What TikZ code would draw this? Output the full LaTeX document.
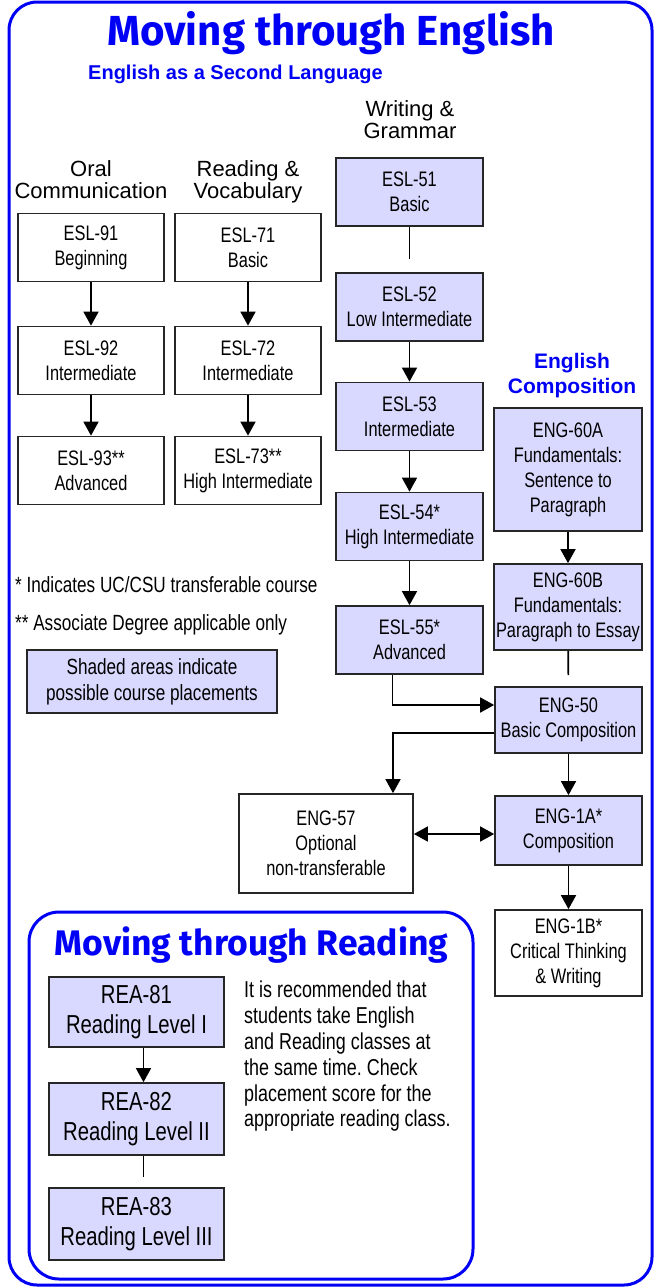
\documentclass[tikz,border=0pt]{standalone}
\usepackage{fontspec}
\setmainfont{Liberation Sans}
\newfontfamily\narrowfont{Liberation Sans}[FakeStretch=0.78]
\newfontfamily\titlefont{Fira Sans}
\usetikzlibrary{arrows.meta}
\definecolor{ttlblue}{RGB}{0,0,245}
\definecolor{lav}{RGB}{217,217,255}
\newcommand{\boxfont}{\narrowfont\fontsize{21bp}{25bp}\selectfont}
\frenchspacing

\begin{document}
\begin{tikzpicture}[x=1bp,y=-1bp,
    course/.style={draw=black!85,line width=1.7bp,fill=white,minimum width=146bp,minimum height=68bp,inner sep=0pt,align=center,font=\boxfont},
    placed/.style={course,fill=lav},
    arr/.style={-{Triangle[length=14bp,width=15bp]},line width=1.6bp},
    link/.style={line width=1.6bp},
    lbl/.style={inner sep=0pt},
    head/.style={lbl,align=center,anchor=north,font=\fontsize{22bp}{22bp}\selectfont},
    bluehead/.style={lbl,text=ttlblue,font=\fontsize{20bp}{25bp}\selectfont\bfseries}]

\useasboundingbox (0,0) rectangle (654,1287);
\path[draw=ttlblue,line width=3bp,rounded corners=28bp] (9,2) rectangle (652,1285);

\node[lbl,anchor=base,text=ttlblue,font=\titlefont\fontsize{42bp}{44bp}\bfseries] (title) at (331,45) {Moving through English};
\node[bluehead,anchor=base west] (esl) at (88,79) {English as a Second Language};

%column heads
\node[head] (oralhd) at (91,160) {Oral\\Communication};
\node[head] (readhd) at (248,160) {Reading \&\\Vocabulary};
\node[head] (writehd) at (410,100) {Writing \&\\Grammar};
\node[bluehead,anchor=north,align=center,font=\fontsize{21bp}{25bp}\selectfont\bfseries] (comphd) at (572,353) {English\\Composition};

%oral communication
\foreach \n/\y/\a/\b in {o91/247.5/ESL-91/Beginning, o92/360.5/ESL-92/Intermediate, o93/470.5/ESL-93**/Advanced}{
    \node[course] (\n) at (91,\y) {\a\\\b};
}
%reading and vocabulary
\foreach \n/\y/\a/\b in {r71/247.5/ESL-71/Basic, r72/360.5/ESL-72/Intermediate, r73/470.5/ESL-73**/High Intermediate}{
    \node[course] (\n) at (248,\y) {\a\\\b};
}
%writing and grammar
\foreach \n/\y/\a/\b in {w51/192/ESL-51/Basic, w52/307/ESL-52/Low Intermediate, w53/416.5/ESL-53/Intermediate, w54/526.5/ESL-54*/High Intermediate, w55/640/ESL-55*/Advanced}{
    \node[placed,minimum width=147bp] (\n) at (409.5,\y) {\a\\\b};
}
%english composition
\node[placed,minimum width=148bp,minimum height=123bp] (c60a) at (568,469.5) {ENG-60A\\Fundamentals:\\Sentence to\\Paragraph};
\node[placed,minimum width=148bp,minimum height=86bp] (c60b) at (568,607) {ENG-60B\\Fundamentals:\\Paragraph to Essay};
\node[placed,minimum width=147bp,minimum height=66bp] (c50) at (568.5,720) {ENG-50\\Basic Composition};
\node[placed,minimum width=147bp,minimum height=69bp] (c1a) at (568.5,830.5) {ENG-1A*\\Composition};
\node[course,minimum width=147bp,minimum height=86bp] (c1b) at (568.5,953) {ENG-1B*\\Critical Thinking\\\& Writing};
\node[course,minimum width=174bp,minimum height=99bp] (c57) at (326,843.5) {ENG-57\\Optional\\non-transferable};

\foreach \a/\b in {o91/o92, o92/o93, r71/r72, r72/r73, w52/w53, w53/w54, w54/w55, c60a/c60b, c50/c1a, c1a/c1b}{
    \draw[arr] (\a) -- (\b);
}
\draw[link,shorten >=13bp] (w51) -- (w52);
\draw[link,shorten >=11bp] (c60b) -- (c50);
\draw[arr] ([xshift=-17bp]w55.south) |- ([yshift=15bp]c50.west);
\draw[arr] ([yshift=-13bp]c50.west) -| ([xshift=67bp]c57.north);
\draw[{Triangle[length=14bp,width=15bp]}-{Triangle[length=14bp,width=15bp]},line width=1.6bp] ([yshift=-3.5bp]c1a.west -| c57.east) -- ([yshift=-3.5bp]c1a.west);

%key
\node[lbl,anchor=base west,font=\narrowfont\fontsize{22bp}{25bp}\selectfont] (star1) at (15,592) {* Indicates UC/CSU transferable course};
\node[lbl,anchor=base west,font=\narrowfont\fontsize{22bp}{25bp}\selectfont] (star2) at (15,630) {** Associate Degree applicable only};
\node[placed,minimum width=250bp,minimum height=63bp,font=\narrowfont\fontsize{22bp}{26bp}\selectfont] (key) at (152,681.5) {Shaded areas indicate\\possible course placements};

%reading
\path[draw=ttlblue,line width=3bp,rounded corners=30bp] (29,912) rectangle (473,1279);
\node[lbl,anchor=base,text=ttlblue,font=\titlefont\fontsize{35.5bp}{38bp}\bfseries] (readtitle) at (251.5,955) {Moving through Reading};
\foreach \n/\y/\h/\a/\b in {rea81/1012/70/REA-81/Reading Level I, rea82/1119/72/REA-82/Reading Level II, rea83/1224/72/REA-83/Reading Level III}{
    \node[placed,minimum width=175bp,minimum height=\h bp,font=\narrowfont\fontsize{26bp}{30bp}\selectfont] (\n) at (136.5,\y) {\a\\\b};
}
\draw[arr] ([xshift=7bp]rea81.south) -- ([xshift=7bp]rea82.north);
\draw[link,shorten >=10bp] ([xshift=7bp]rea82.south) -- ([xshift=7bp]rea83.north);
\node[lbl,anchor=north west,align=left,font=\narrowfont\fontsize{23bp}{25.8bp}\selectfont] (advice) at (244,981) {It is recommended that\\students take English\\and Reading classes at\\the same time. Check\\placement score for the\\appropriate reading class.};

\end{tikzpicture}
\end{document}
